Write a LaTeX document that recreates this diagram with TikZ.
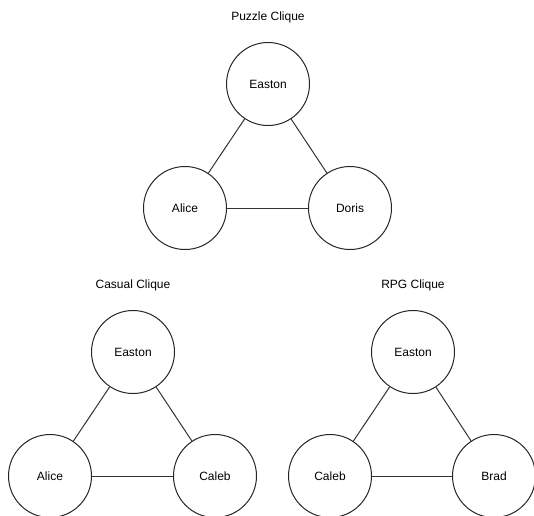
\documentclass[tikz,border=0pt]{standalone}
\usepackage{fontspec}
\setmainfont{Liberation Sans}
\begin{document}
\begin{tikzpicture}[x=1pt,y=-1pt,
  person/.style={circle,draw=black!85,line width=1pt,minimum size=83pt,inner sep=0pt,font=\fontsize{12}{14}\selectfont},
  title/.style={font=\fontsize{12}{14}\selectfont},
  tie/.style={draw=black!80,line width=1pt}]
\useasboundingbox (0,0) rectangle (534,515);
% Puzzle clique
\node[title] (tp) at (268,17) {Puzzle Clique};
\node[person] (pe) at (268,84) {Easton};
\node[person] (pa) at (185,208) {Alice};
\node[person] (pd) at (350,208) {Doris};
\draw[tie] (pe) -- (pa);
\draw[tie] (pe) -- (pd);
\draw[tie] (pa) -- (pd);
% Casual clique
\node[title] (tc) at (133,285) {Casual Clique};
\node[person] (ce) at (133,352) {Easton};
\node[person] (ca) at (50,476) {Alice};
\node[person] (cc) at (215,476) {Caleb};
\draw[tie] (ce) -- (ca);
\draw[tie] (ce) -- (cc);
\draw[tie] (ca) -- (cc);
% RPG clique
\node[title] (tr) at (413,285) {RPG Clique};
\node[person] (re) at (413,352) {Easton};
\node[person] (rc) at (330,476) {Caleb};
\node[person] (rb) at (494,476) {Brad};
\draw[tie] (re) -- (rc);
\draw[tie] (re) -- (rb);
\draw[tie] (rc) -- (rb);
\end{tikzpicture}
\end{document}
